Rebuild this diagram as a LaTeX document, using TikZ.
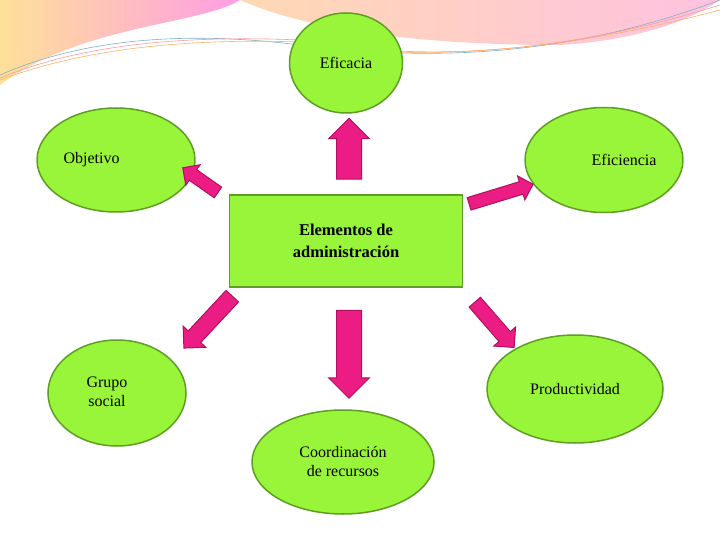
\documentclass[tikz,border=0pt]{standalone}
\usepackage{fontspec}
\setmainfont{Liberation Serif}
\usetikzlibrary{shapes.arrows,shapes.geometric}
\definecolor{lime}{HTML}{99F53A}
\definecolor{limeb}{HTML}{5E9E22}
\definecolor{mag}{HTML}{EC1C85}
\definecolor{magb}{HTML}{B0105E}
\begin{document}
\begin{tikzpicture}[x=1pt,y=-1pt,
 ell/.style={ellipse,draw=limeb,line width=1.5pt,fill=lime,font=\fontsize{16}{19}\selectfont,align=center},
 blk/.style={single arrow,draw=magb,line width=1pt,fill=mag,inner xsep=0pt}]
\useasboundingbox (0,0) rectangle (720,540);
\fill[white] (0,0) rectangle (720,540);
% top decoration
\shade[left color=yellow!40!orange!40,right color=magenta!40!pink!70] (0,0) -- (240,0) .. controls (200,25) and (80,25) .. (0,85) -- cycle;
\shade[left color=orange!30,right color=pink!80!magenta!60] (240,0) .. controls (330,40) and (480,45) .. (560,45) .. controls (640,40) and (690,20) .. (720,0) -- cycle;
\draw[cyan!60!black!60,line width=0.6pt] (0,75) .. controls (80,40) and (180,30) .. (300,45) .. controls (420,60) and (560,60) .. (720,0);
\draw[pink!80!red,line width=0.6pt] (0,78) .. controls (80,45) and (180,35) .. (300,40) .. controls (420,62) and (560,55) .. (720,5);
\draw[orange!60,line width=0.6pt] (0,80) .. controls (80,50) and (180,38) .. (300,42) .. controls (420,64) and (570,50) .. (720,10);
% ellipses
\node[ell,minimum width=113pt,minimum height=100pt] (efa) at (346,63) {Eficacia};
\node[ell,minimum width=132pt,minimum height=104pt,text width=105pt,align=left] (obj) at (116,160) {Objetivo};
\node[ell,minimum width=134pt,minimum height=105pt,text width=105pt,align=right] (efi) at (604,160) {Eficiencia};
\node[ell,minimum width=138pt,minimum height=106pt] (gru) at (117,393) {\hspace*{-20pt}\begin{tabular}{c}Grupo\\social\end{tabular}};
\node[ell,minimum width=176pt,minimum height=108pt] (pro) at (575,389) {Productividad};
\node[ell,minimum width=182pt,minimum height=104pt] (coo) at (343,462) {Coordinación\\de recursos};
\node[draw=limeb,line width=1.5pt,fill=lime,minimum width=233pt,minimum height=92pt,align=center,font=\fontsize{16.5}{22}\selectfont\bfseries] (ctr) at (346,241) {Elementos de\\administración};
% block arrows
\node[blk,minimum height=61pt,inner ysep=12pt,single arrow head extend=8pt,rotate=90] (a1) at (349,155) {};
\node[blk,minimum height=88pt,inner ysep=12pt,single arrow head extend=8pt,rotate=-90] (a2) at (349,348) {};
\node[blk,minimum height=43pt,inner ysep=6pt,single arrow head extend=6pt,rotate=145] (a3) at (203,182) {};
\node[blk,minimum height=67pt,inner ysep=6pt,single arrow head extend=6pt,rotate=17] (a4) at (498,195) {};
\node[blk,minimum height=71pt,inner ysep=8pt,single arrow head extend=7pt,rotate=227] (a5) at (211,319) {};
\node[blk,minimum height=60pt,inner ysep=7pt,single arrow head extend=7pt,rotate=-49] (a6) at (492,322) {};
\end{tikzpicture}
\end{document}
